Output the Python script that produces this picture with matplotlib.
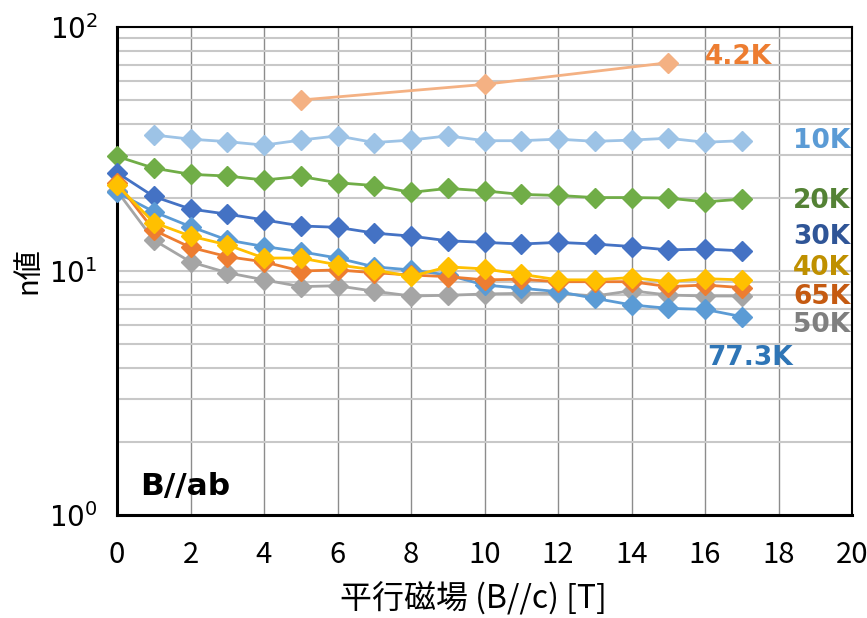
import matplotlib
matplotlib.use("Agg")
import matplotlib.pyplot as plt
from matplotlib.ticker import LogLocator, FixedLocator, NullFormatter

plt.rcParams['font.family'] = ['Noto Sans CJK JP', 'DejaVu Sans']

# ---- data ----
x_42 = [5, 10, 15]
n_42 = [50.2, 58.2, 71.4]

x_10 = list(range(1, 18))
n_10 = [36.1, 34.7, 33.9, 32.8, 34.4, 35.8, 33.6, 34.4, 35.8, 34.2, 34.2, 34.7, 34.0, 34.4, 35.0, 33.7, 34.2]

x_all = list(range(0, 18))
n_20 = [29.5, 26.4, 24.9, 24.5, 23.6, 24.4, 23.0, 22.4, 21.0, 21.8, 21.3, 20.6, 20.4, 20.0, 20.0, 19.9, 19.2, 19.7]
n_30 = [25.3, 20.2, 17.95, 17.1, 16.2, 15.3, 15.1, 14.3, 13.9, 13.3, 13.1, 12.9, 13.1, 12.9, 12.6, 12.2, 12.3, 12.1]
n_40 = [22.5, 15.8, 13.9, 12.8, 11.3, 11.3, 10.6, 10.1, 9.5, 10.4, 10.2, 9.7, 9.2, 9.2, 9.4, 9.04, 9.3, 9.2]
n_65 = [23.0, 14.7, 12.5, 11.45, 10.9, 10.0, 10.1, 9.84, 9.63, 9.48, 9.2, 9.25, 9.04, 9.04, 9.04, 8.63, 8.76, 8.55]
n_50 = [21.3, 13.4, 10.9, 9.84, 9.2, 8.63, 8.7, 8.26, 7.9, 7.95, 8.05, 8.1, 8.1, 7.9, 8.3, 7.97, 7.9, 7.9]
n_77 = [21.0, 17.5, 15.2, 13.4, 12.6, 12.0, 11.3, 10.4, 10.1, 9.63, 8.76, 8.5, 8.23, 7.73, 7.26, 7.03, 6.96, 6.5]

labels = ['4.2K', '10K', '20K', '30K', '40K', '65K', '50K', '77.3K']
x_ticks = [0, 2, 4, 6, 8, 10, 12, 14, 16, 18, 20]

# ---- figure ----
fig = plt.figure(figsize=(8.67, 6.18), dpi=100)
ax = fig.add_axes([117/867, 1-515/618, (852-117)/867, (515-27)/618])

ax.set_yscale('log')
ax.set_xlim(0, 20)
ax.set_ylim(1, 100)

# grid
ax.xaxis.set_major_locator(FixedLocator(x_ticks))
ax.yaxis.set_major_locator(LogLocator(base=10, numticks=5))
ax.yaxis.set_minor_locator(LogLocator(base=10, subs=range(2, 10), numticks=20))
ax.yaxis.set_minor_formatter(NullFormatter())
ax.grid(True, which='major', axis='x', color='#8c8c8c', lw=1.0, zorder=0)
ax.grid(True, which='both', axis='y', color='#c8c8c8', lw=1.5, zorder=0)
ax.set_axisbelow(True)

lw = 2.0
ms = 10
series = [
    (x_42, n_42, '#f4b183'),
    (x_10, n_10, '#9dc3e6'),
    (x_all, n_20, '#70ad47'),
    (x_all, n_30, '#4472c4'),
    (x_all, n_50, '#a5a5a5'),
    (x_all, n_77, '#5b9bd5'),
    (x_all, n_65, '#ed7d31'),
    (x_all, n_40, '#ffc000'),
]
for xs, ys, c in series:
    ax.plot(xs, ys, color=c, lw=lw, marker='D', ms=ms, mec=c, mfc=c, zorder=3, clip_on=False)

# series labels
lab_fs = 19
common = dict(fontsize=lab_fs, fontweight='bold', family='DejaVu Sans', va='center')
ax.text(16.0, 75.4, labels[0], color='#ed7d31', ha='left', **common)
ax.text(19.95, 34.2, labels[1], color='#5b9bd5', ha='right', **common)
ax.text(19.95, 19.3, labels[2], color='#548235', ha='right', **common)
ax.text(19.95, 13.8, labels[3], color='#2f5597', ha='right', **common)
ax.text(19.95, 10.24, labels[4], color='#bf9000', ha='right', **common)
ax.text(19.95, 7.82, labels[5], color='#c55a11', ha='right', **common)
ax.text(19.95, 6.0, labels[6], color='#7f7f7f', ha='right', **common)
ax.text(16.05, 4.4, labels[7], color='#2e75b6', ha='left', **common)

ax.text(0.64, 1.31, 'B//ab', color='black', fontsize=22.5, fontweight='bold',
        family='DejaVu Sans', ha='left', va='center')

# spines
for s in ['top', 'right']:
    ax.spines[s].set_linewidth(1.5)
    ax.spines[s].set_color('black')
for s in ['left', 'bottom']:
    ax.spines[s].set_linewidth(2.2)
    ax.spines[s].set_color('black')

ax.tick_params(axis='both', which='both', length=0)
ax.tick_params(axis='x', labelsize=21, pad=18)
ax.tick_params(axis='y', labelsize=20, pad=14)
for t in ax.get_yticklabels():
    t.set_family('DejaVu Sans')

ax.set_xlabel('平行磁場 (B//c) [T]', fontsize=23, labelpad=9)
ax.xaxis.label.set_x(0.485)
ax.set_ylabel('n値', fontsize=21, labelpad=4)

fig.savefig('out.png', dpi=100)
